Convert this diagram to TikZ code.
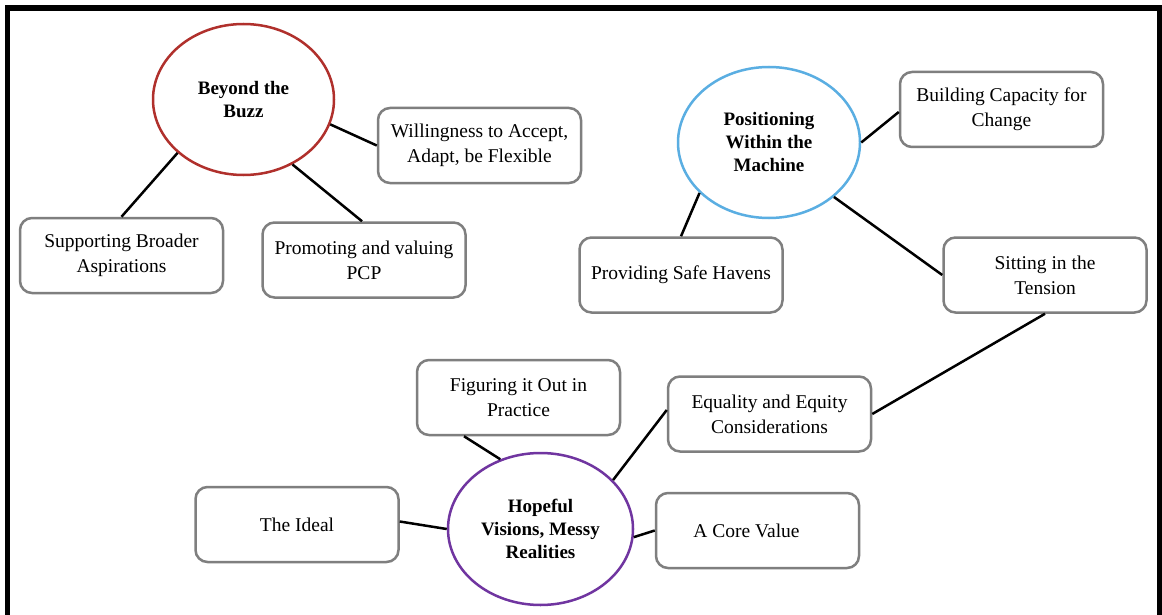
\documentclass[tikz,border=0pt]{standalone}
\usepackage{fontspec}
\setmainfont{Liberation Serif}
\usetikzlibrary{shapes.geometric,calc}
\definecolor{buzzred}{HTML}{B0302C}
\definecolor{machblue}{HTML}{5AAEE2}
\definecolor{hopepurple}{HTML}{7035A0}
\definecolor{boxgray}{HTML}{7F7F7F}
\begin{document}
\begin{tikzpicture}[x=1pt,y=-1pt,
  topic/.style={ellipse, draw, line width=2.5pt, inner sep=0pt, align=center,
    font=\fontsize{19}{23}\selectfont\bfseries, fill=white},
  sub/.style={draw=boxgray, line width=2.5pt, rounded corners=12pt,
    minimum width=203pt, minimum height=75pt, inner sep=2pt, align=center,
    font=\fontsize{19.5}{25}\selectfont, fill=white},
  link/.style={draw=black, line width=2.5pt}]
\useasboundingbox (0,0) rectangle (1162,615);
\clip (0,0) rectangle (1162,615);
\fill[white] (0,0) rectangle (1162,615);
\draw[line width=5.5pt] (7.5,8) rectangle (1159.5,650);

% topics
\node[topic, draw=buzzred, minimum width=181pt, minimum height=151pt] (buzz) at (243.5,99.5) {Beyond the\\Buzz};
\node[topic, draw=machblue, minimum width=182pt, minimum height=151pt] (mach) at (769,142.5) {Positioning\\Within the\\Machine};
\node[topic, draw=hopepurple, minimum width=185pt, minimum height=152pt] (hope) at (540.5,529) {Hopeful\\Visions, Messy\\Realities};

% sub-themes
\node[sub] (will) at (479.5,145.5) {Willingness to Accept,\\Adapt, be Flexible};
\node[sub] (supp) at (121.5,255.5) {Supporting Broader\\Aspirations};
\node[sub] (prom) at (364,260) {Promoting and valuing\\PCP};
\node[sub] (build) at (1001.5,109.5) {Building Capacity for\\Change};
\node[sub] (sit) at (1045,275) {Sitting in the\\Tension};
\node[sub] (safe) at (681,275) {Providing Safe Havens};
\node[sub] (fig) at (518.5,397.5) {Figuring it Out in\\Practice};
\node[sub] (eq) at (769.5,414) {Equality and Equity\\Considerations};
\node[sub] (ideal) at (297,524.5) {The Ideal};
\node[sub] (core) at (757.5,530.5) {A Core Value\hspace*{22pt}};

% connectors
\draw[link] (buzz.-16.4) -- (will.west);
\draw[link] (buzz.-141.3) -- (supp.north);
\draw[link] (buzz.-53.5) -- ([xshift=-2pt]prom.north);
\draw[link] (mach.0) -- ([yshift=-2.5pt]build.west);
\draw[link] (mach.216.2) -- (safe.north);
\draw[link] (mach.-40.4) -- (sit.west);
\draw[link] (sit.south) -- (eq.east);
\draw[link] (hope.120) -- ([xshift=-54.5pt]fig.south);
\draw[link] (hope.34.8) -- ([yshift=4pt]eq.west);
\draw[link] (hope.180) -- ([yshift=3pt]ideal.east);
\draw[link] (hope.-5.6) -- (core.west);
\end{tikzpicture}
\end{document}
